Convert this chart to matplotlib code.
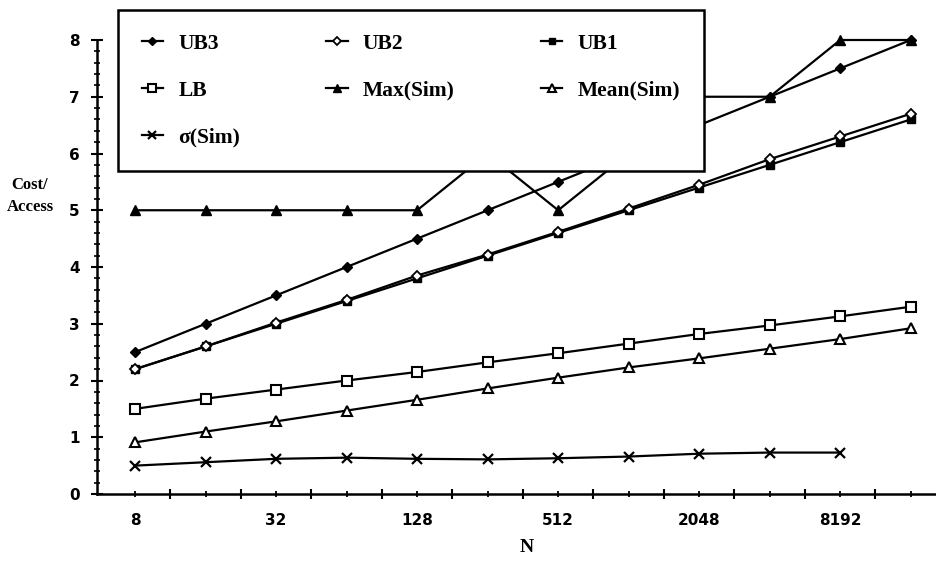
import numpy as np
import matplotlib
matplotlib.use('Agg')
import matplotlib.pyplot as plt
from matplotlib.ticker import FixedLocator, FixedFormatter, MultipleLocator, NullFormatter

# N = 8 ... 16384
N = [8, 16, 32, 64, 128, 256, 512, 1024, 2048, 4096, 8192, 16384]
xlabels = ['8', '', '32', '', '128', '', '512', '', '2048', '', '8192', '']

ub3 = [2.5, 3.0, 3.5, 4.0, 4.5, 5.0, 5.5, 6.0, 6.5, 7.0, 7.5, 8.0]
ub2 = [2.2, 2.6, 3.02, 3.42, 3.85, 4.22, 4.62, 5.03, 5.45, 5.9, 6.3, 6.7]
ub1 = [2.2, 2.6, 3.0, 3.4, 3.8, 4.2, 4.6, 5.0, 5.4, 5.8, 6.2, 6.6]
lb = [1.5, 1.68, 1.84, 2.0, 2.15, 2.32, 2.48, 2.65, 2.82, 2.97, 3.13, 3.3]
max_sim = [5, 5, 5, 5, 5, 6, 5, 6, 7, 7, 8, 8]
mean_sim = [0.91, 1.1, 1.28, 1.47, 1.66, 1.86, 2.05, 2.23, 2.39, 2.56, 2.73, 2.92]
sigma_sim = [0.5, 0.56, 0.62, 0.64, 0.62, 0.61, 0.63, 0.66, 0.71, 0.73, 0.73]

serif = ['Liberation Serif', 'DejaVu Serif']

fig = plt.figure(figsize=(9.37, 5.61), dpi=100)
ax = fig.add_axes([97/937, 67/561, 849/937, 454/561])

kw = dict(color='black', lw=1.6, clip_on=False)
h_ub3, = ax.plot(N, ub3, marker='D', ms=5.5, mfc='black', mec='black', label='UB3', **kw)
h_ub1, = ax.plot(N, ub1, marker='s', ms=6, mfc='black', mec='black', label='UB1', **kw)
h_ub2, = ax.plot(N, ub2, marker='D', ms=5, mfc='white', mec='black', mew=1.3, label='UB2', **kw)
h_lb, = ax.plot(N, lb, marker='s', ms=7, mfc='white', mec='black', mew=1.5, label='LB', **kw)
h_max, = ax.plot(N, max_sim, marker='^', ms=7.5, mfc='black', mec='black', label='Max(Sim)', **kw)
h_mean, = ax.plot(N, mean_sim, marker='^', ms=7, mfc='white', mec='black', mew=1.5, label='Mean(Sim)', **kw)
h_sig, = ax.plot(N[:-1], sigma_sim, marker='x', ms=7.5, mew=1.6, label='σ(Sim)', **kw)

ax.set_xscale('log', base=2)
ax.set_xlim(2**2.46, 2**14.5)
ax.set_ylim(0, 8)

ax.xaxis.set_major_locator(FixedLocator(N))
ax.xaxis.set_major_formatter(FixedFormatter(xlabels))
ax.xaxis.set_minor_locator(FixedLocator([n * np.sqrt(2) for n in N]))
ax.xaxis.set_minor_formatter(NullFormatter())
ax.yaxis.set_major_locator(MultipleLocator(1))
ax.yaxis.set_minor_locator(MultipleLocator(0.2))

for s in ['top', 'right']:
    ax.spines[s].set_visible(False)
for s in ['left', 'bottom']:
    ax.spines[s].set_linewidth(1.8)

ax.tick_params(axis='x', which='major', direction='inout', length=4, width=1.3, pad=12,
               labelsize=11)
ax.tick_params(axis='x', which='minor', direction='inout', length=7.5, width=1.5)
ax.tick_params(axis='y', which='major', direction='inout', length=9, width=1.5, pad=8,
               labelsize=11)
ax.tick_params(axis='y', which='minor', direction='inout', length=5, width=1.2)
for t in ax.get_xticklabels() + ax.get_yticklabels():
    t.set_fontweight('bold')

fig.text(30/937, 1 - 196/561, 'Cost/\nAccess', ha='center', va='center',
         fontsize=12, fontweight='bold', family=serif, linespacing=1.5)
fig.text(527/937, 1 - 547/561, 'N', ha='center', va='center',
         fontsize=14, fontweight='bold', family=serif)

handles = [h_ub3, h_lb, h_sig, h_ub2, h_max, h_ub1, h_mean]
leg = ax.legend(handles=handles, ncol=3, loc='upper left',
                bbox_to_anchor=(118/937, 1 - 10/561), bbox_transform=fig.transFigure,
                prop={'family': serif, 'weight': 'bold', 'size': 15.5},
                frameon=True, fancybox=False, framealpha=1, borderaxespad=0,
                borderpad=1.1, handlelength=1.0, handletextpad=0.7,
                labelspacing=1.25, columnspacing=4.0, markerscale=0.8)
leg.get_frame().set_edgecolor('black')
leg.get_frame().set_linewidth(1.8)
leg.set_zorder(10)

fig.savefig('out.png', dpi=100)
